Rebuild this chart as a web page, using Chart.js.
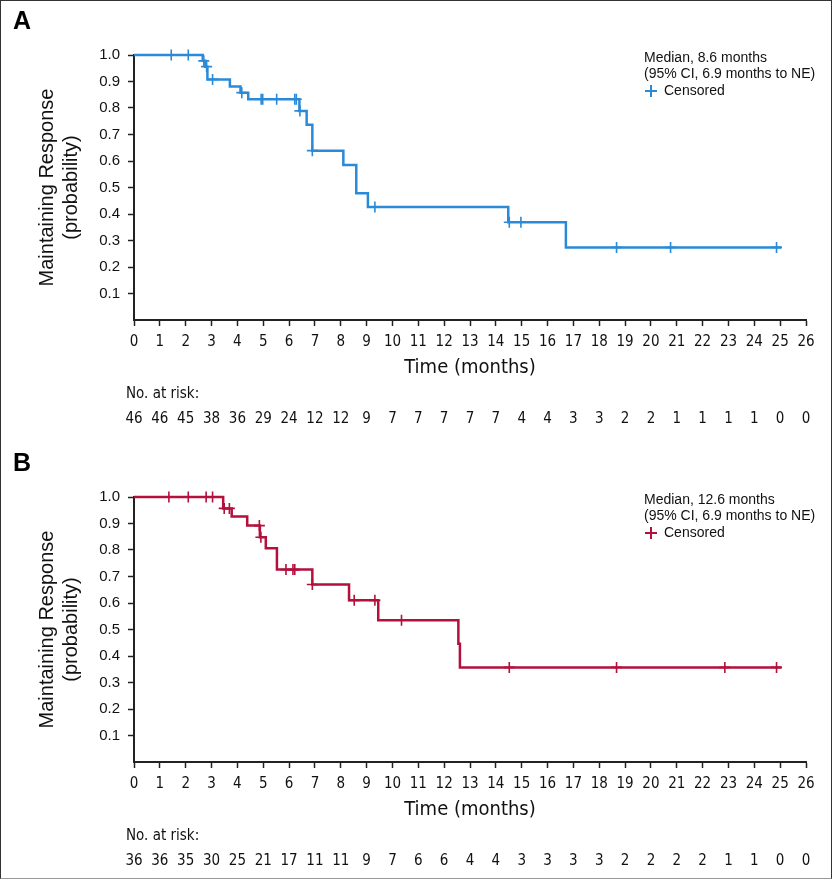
<!DOCTYPE html>
<html>
<head>
<meta charset="utf-8">
<script src="https://cdn.jsdelivr.net/npm/chart.js@4.4.1/dist/chart.umd.min.js"></script>
<style>
  html, body { margin: 0; padding: 0; background: #fff; overflow: hidden; }
  #wrap { position: relative; width: 832px; height: 881px; overflow: hidden; }
  canvas { position: absolute; left: 0; }
  #chartA { top: 0; }
  #chartB { top: 442px; }
  #frame { position: absolute; left: 0; top: 0; width: 832px; height: 879px; box-sizing: border-box;
           border: 1px solid #333; border-bottom-color: #999; pointer-events: none; }
</style>
</head>
<body>
<div id="wrap">
  <canvas id="chartA" width="832" height="442"></canvas>
  <canvas id="chartB" width="832" height="442"></canvas>
  <div id="frame"></div>
</div>
<script>
// x tick positions (months) and numbers at risk under each
const months = [0,1,2,3,4,5,6,7,8,9,10,11,12,13,14,15,16,17,18,19,20,21,22,23,24,25,26];
const riskA = [46,46,45,38,36,29,24,12,12,9,7,7,7,7,7,4,4,3,3,2,2,1,1,1,1,0,0];
const riskB = [36,36,35,30,25,21,17,11,11,9,7,6,6,4,4,3,3,3,3,2,2,2,2,1,1,0,0];

// panel A: Kaplan-Meier steps (time, probability after the step)
const timeA = [0, 2.66, 2.76, 2.84, 3.71, 4.12, 4.42, 6.40, 6.68, 6.90, 8.10, 8.60, 9.05, 14.48, 16.71, 25.05];
const survA = [1.0, 0.978, 0.956, 0.908, 0.881, 0.858, 0.833, 0.789, 0.737, 0.639, 0.585, 0.478, 0.426, 0.369, 0.274, 0.274];
const censTimeA = [1.44, 2.10, 2.70, 2.81, 3.04, 4.17, 4.92, 4.98, 5.52, 6.22, 6.28, 6.42, 6.90, 9.32, 14.52, 14.97, 18.67, 20.76, 24.86];
const censSurvA = [1.0, 1.0, 0.978, 0.956, 0.908, 0.858, 0.833, 0.833, 0.833, 0.833, 0.833, 0.789, 0.639, 0.426, 0.369, 0.369, 0.274, 0.274, 0.274];

// panel B
const timeB = [0, 3.45, 3.78, 4.38, 4.87, 5.10, 5.53, 6.90, 8.32, 9.45, 12.55, 12.61, 25.05];
const survB = [1.0, 0.957, 0.926, 0.892, 0.848, 0.807, 0.726, 0.670, 0.610, 0.535, 0.446, 0.357, 0.357];
const censTimeB = [1.35, 2.10, 2.79, 3.04, 3.49, 3.69, 4.85, 4.91, 5.88, 6.15, 6.22, 6.90, 8.52, 9.32, 10.35, 14.52, 18.67, 22.86, 24.86];
const censSurvB = [1.0, 1.0, 1.0, 1.0, 0.957, 0.957, 0.892, 0.848, 0.726, 0.726, 0.726, 0.670, 0.610, 0.610, 0.535, 0.357, 0.357, 0.357, 0.357];

const sans = '"Liberation Sans", Arial, Helvetica, sans-serif';
const narrow = '"Liberation Sans Narrow", "Arial Narrow", "DejaVu Sans Condensed", sans-serif';

// letter, median text, censored key and the at-risk rows
function panelNotes(letter, color, median, risk) {
    return {
        id: 'notes' + letter,
        afterDraw(chart) {
            const ctx = chart.ctx;
            const x = chart.scales.x;
            ctx.save();
            ctx.fillStyle = '#000';
            ctx.textBaseline = 'middle';
            ctx.textAlign = 'left';
            ctx.font = 'bold 25px ' + sans;
            ctx.fillText(letter, 13, 22);

            ctx.fillStyle = '#111';
            ctx.font = '14px ' + sans;
            ctx.fillText(median, 644, 58);
            ctx.fillText('(95% CI, 6.9 months to NE)', 644, 74);
            ctx.fillText('Censored', 664, 91);
            ctx.strokeStyle = color;
            ctx.lineWidth = 2;
            ctx.beginPath();
            ctx.moveTo(645, 91); ctx.lineTo(657, 91);
            ctx.moveTo(651, 85); ctx.lineTo(651, 97);
            ctx.stroke();

            ctx.font = '15px ' + narrow;
            ctx.fillText('No. at risk:', 126, 394);
            ctx.textAlign = 'center';
            risk.forEach((n, i) => ctx.fillText(String(n), x.getPixelForValue(months[i]), 419));
            ctx.restore();
        }
    };
}

function makeChart(id, times, surv, cTimes, cSurv, color, notes) {
    new Chart(document.getElementById(id), {
        type: 'line',
        data: {
            datasets: [
                {
                    data: times.map((t, i) => ({ x: t, y: surv[i] })),
                    borderColor: color,
                    borderWidth: 2.5,
                    stepped: true,
                    pointRadius: 0,
                    fill: false,
                    clip: 8
                },
                {
                    data: cTimes.map((t, i) => ({ x: t, y: cSurv[i] })),
                    showLine: false,
                    borderColor: color,
                    pointStyle: 'cross',
                    pointRadius: 5.5,
                    pointBorderWidth: 1.6,
                    clip: 8
                }
            ]
        },
        options: {
            responsive: false,
            animation: false,
            layout: { padding: { top: 55, right: 26, bottom: 62, left: 0 } },
            plugins: { legend: { display: false }, tooltip: { enabled: false } },
            scales: {
                x: {
                    type: 'linear', min: 0, max: 26,
                    afterFit(s) { s.height = 60; },
                    ticks: { stepSize: 1, autoSkip: false, maxRotation: 0, padding: 7, color: '#111',
                             font: { family: narrow, size: 15 } },
                    grid: { drawOnChartArea: false, tickLength: 6, tickWidth: 1.5, tickColor: '#222' },
                    border: { color: '#222', width: 2 },
                    title: { display: true, text: 'Time (months)', color: '#111',
                             font: { family: narrow, size: 20 }, padding: { top: 0, bottom: 0 } }
                },
                y: {
                    min: 0, max: 1,
                    afterFit(s) { s.width = 134; },
                    ticks: { stepSize: 0.1, padding: 8, color: '#111', font: { family: sans, size: 15 },
                             callback: v => (v === 0 ? '' : v.toFixed(1)) },
                    grid: { drawOnChartArea: false, tickLength: 6, tickWidth: 1.5,
                            tickColor: c => (c.tick && c.tick.value === 0 ? 'rgba(0,0,0,0)' : '#222') },
                    border: { color: '#222', width: 2 },
                    title: { display: true, text: ['Maintaining Response', '(probability)'], color: '#111',
                             font: { family: sans, size: 20 }, padding: { top: 35, bottom: 0 } }
                }
            }
        },
        plugins: [notes]
    });
}

document.addEventListener('DOMContentLoaded', function () {
    makeChart('chartA', timeA, survA, censTimeA, censSurvA, '#2a8ad8',
        panelNotes('A', '#2a8ad8', 'Median, 8.6 months', riskA));
    makeChart('chartB', timeB, survB, censTimeB, censSurvB, '#b3103c',
        panelNotes('B', '#b3103c', 'Median, 12.6 months', riskB));
});
</script>
</body>
</html>
